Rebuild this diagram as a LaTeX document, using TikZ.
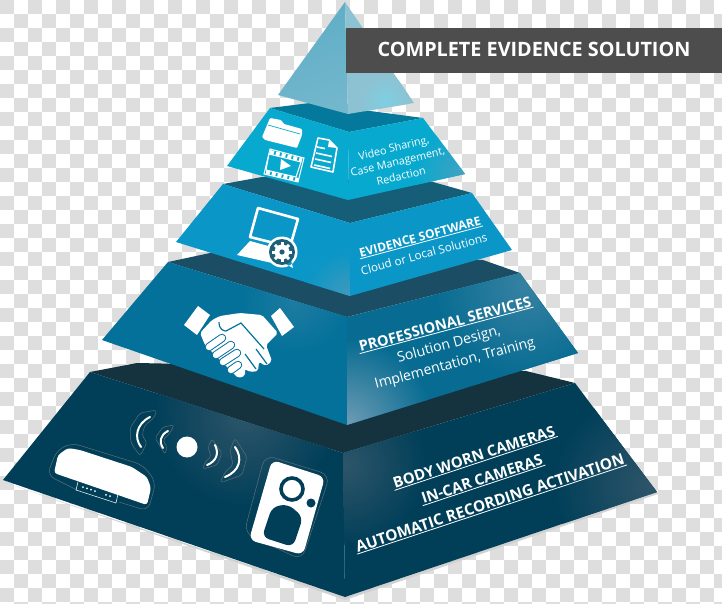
\documentclass[tikz,border=0pt]{standalone}
\usepackage{fontspec}
\setmainfont{Open Sans}
\usetikzlibrary{calc}
\definecolor{topone}{HTML}{15333F}
\definecolor{toptwo}{HTML}{1B4E64}
\definecolor{topthree}{HTML}{165D78}
\definecolor{topfour}{HTML}{05799B}
\definecolor{baseblue}{HTML}{013F59}
\definecolor{basesoft}{HTML}{2E5569}
\definecolor{teamblue}{HTML}{03719A}
\definecolor{teamside}{HTML}{086C92}
\definecolor{teamsoft}{HTML}{6F9CB5}
\definecolor{softblue}{HTML}{0A96C6}
\definecolor{videoblue}{HTML}{07A9CF}
\definecolor{gearblue}{HTML}{1E5F78}
\definecolor{halo}{HTML}{5D6E76}
\definecolor{titlegray}{HTML}{4D4D4D}
\definecolor{check}{HTML}{DEDEDE}
\definecolor{tipdark}{HTML}{5FADC7}
\definecolor{tiplight}{HTML}{7FCFE2}
\definecolor{tiplow}{HTML}{72B7CC}
\definecolor{tippale}{HTML}{8CC2D2}
\tikzset{
    % The see-through squares behind the picture
    check fill/.style={fill=check},
%
    % Thin shadow under the base
    shadow fill/.style={fill=black!18},
%
    % The writing on the right hand sides
    side text/.style={text=white, align=center, inner sep=1pt},
    heading text/.style={side text, font=\bfseries\fontsize{#1}{#1}\selectfont},
    light text/.style={side text, font=\fontsize{#1}{#1}\selectfont},
    under line/.style={draw=white, line width=.8pt},
%
    % White pictograms
    icon line/.style={draw=white, line width=#1},
    halo line/.style={draw=halo, line width=.5pt, rounded corners=#1},
    wave line/.style={draw=white, line width=2pt, line cap=round},
    finger/.style={draw=teamblue, line width=8.4pt, line cap=round,
        postaction={draw=white, line width=6.4pt, line cap=round}}}
% A soft lighter patch that fades out into the colour of a face
\newcommand\faceglow[5]{\shade[inner color=#4, outer color=#5] (#1,#2) circle (#3);}
\begin{document}
\begin{tikzpicture}[x=1pt, y=-1pt]
\useasboundingbox (0,0) rectangle (722,604);

% see-through squares
\fill[white] (0,0) rectangle (722,604);
\foreach \i in {0,...,51}
    \foreach \j in {0,...,43} {
        \pgfmathparse{int(mod(\i+\j,2))}
        \ifnum\pgfmathresult=0
            \path[check fill] (14*\i,14*\j) rectangle ++(14,14);
        \fi}

% bottom tier
\path[shadow fill] (3,482) -- (345,600) -- (658,494) -- (657,492) -- (345,597) -- cycle;
\fill[topone] (90,372) -- (137,363) -- (526,371) -- (575,383) -- (343,453) -- cycle;
\begin{scope}
\clip (90,372) -- (343,453) -- (345,597) -- (3,480) -- cycle;
\fill[baseblue] (0,360) rectangle (350,600);
\faceglow{245}{415}{90}{basesoft}{baseblue}
\end{scope}
\begin{scope}
\clip (343,453) -- (575,383) -- (657,492) -- (345,597) -- cycle;
\fill[baseblue] (340,380) rectangle (660,600);
\faceglow{345}{465}{80}{basesoft}{baseblue}
\faceglow{650}{485}{95}{basesoft}{baseblue}
\end{scope}

% handshake tier
\fill[toptwo] (168,262) -- (210,253) -- (483,260) -- (520,273) -- (347,317) -- cycle;
\begin{scope}
\clip (168,262) -- (347,317) -- (347,425) -- (102,340) -- cycle;
\fill[teamblue] (100,250) rectangle (350,430);
\faceglow{295}{300}{55}{teamblue!75!teamsoft}{teamblue}
\end{scope}
\begin{scope}
\clip (347,317) -- (520,273) -- (578,353) -- (347,425) -- cycle;
\fill[teamside] (345,270) rectangle (580,430);
\faceglow{347}{425}{85}{teamsoft}{teamside}
\faceglow{525}{285}{90}{teamside!55!teamsoft}{teamside}
\end{scope}

% laptop tier
\fill[topthree] (223,184) -- (262,177) -- (433,182) -- (472,193) -- (350,223) -- cycle;
\begin{scope}
\clip (223,184) -- (350,223) -- (350,296) -- (176,242) -- cycle;
\fill[softblue] (170,180) rectangle (352,300);
\faceglow{350}{296}{45}{softblue!45!teamsoft}{softblue}
\end{scope}
\fill[softblue] (350,223) -- (472,193) -- (512,250) -- (350,296) -- cycle;

% folder tier
\fill[topfour] (270,108) -- (310,103) -- (423,118) -- (349,132) -- cycle;
\fill[videoblue] (270,108) -- (349,132) -- (348,200) -- (227,166) -- cycle;
\begin{scope}
\clip (349,132) -- (423,118) -- (465,174) -- (348,200) -- cycle;
\fill[videoblue] (345,115) rectangle (470,205);
\faceglow{465}{176}{50}{videoblue!40!teamsoft}{videoblue}
\end{scope}

% tip
\shade[top color=tipdark, middle color=tiplight, bottom color=tiplow, shading angle=20]
    (345,2) -- (348,114) -- (278,95) -- cycle;
\shade[top color=tippale, middle color=tippale, bottom color=tippale, shading angle=-10]
    (345,2) -- (414,103) -- (348,114) -- cycle;
\begin{scope}
\clip (345,2) -- (414,103) -- (348,114) -- cycle;
\faceglow{385}{100}{24}{tiplight}{tippale}
\end{scope}

% title
\fill[titlegray] (346,28) rectangle (722,73);
\node (title) [text=white, font=\bfseries\fontsize{19.8}{20}\selectfont]
    at (534,49) {COMPLETE EVIDENCE SOLUTION};

% folder
\fill[white, rounded corners=1pt] (270,118) -- (281,120) -- (284,124) -- (302,129) -- (302,135)
    -- (297,148) -- (265,140) -- (262,137) -- cycle;
\draw[videoblue, line width=.7pt] (268,125) -- (300,134);

% document
\draw[icon line=1.6pt, line join=round] (318,138) -- (329,140) -- (337,148) -- (333,172) -- (311,167) -- cycle;
\fill[white] (329,140) -- (337,148) -- (328,147) -- cycle;
\foreach \y in {0,6,12}
    \draw[icon line=1.6pt] ($(316,153)+(-\y*.15,\y)$) -- ++(16,3.5);
\draw[icon line=1.6pt] (317,147) -- ++(8,1.6);

% film strip
\draw[icon line=4pt, dotted, line cap=butt] (270,152) -- (302,160);
\draw[icon line=4pt, dotted, line cap=butt] (266,172) -- (298,180);
\draw[icon line=1pt] (270,149) -- (304,158) -- (298,182) -- (264,174) -- cycle;
\draw[icon line=1pt] (269,154) -- (301,162) -- (296,177) -- (266,170) -- cycle;
\fill[white] (281,159) -- (291,166) -- (280,170) -- cycle;

% laptop
\draw[icon line=2.6pt, line join=round, fill=softblue] (258,208) -- (298,219) -- (290,247) -- (250,237) -- cycle;
\fill[white, line join=round] (250,241) -- (272,247) -- (272,263) -- (237,255) -- cycle;
\fill[white] (282,252) circle (15.5) (282,262) -- (293,268) -- (290,256) -- cycle;
\fill[gearblue] (282,252) circle (13);
\foreach \a in {0,45,...,315}
    \draw[icon line=3pt] (282,252) -- ++(\a:10);
\fill[white] (282,252) circle (7.5);
\fill[gearblue] (282,252) circle (2.6);

% handshake
\fill[white] (198,306) -- (210,315) -- (197,335) -- (184,325) -- cycle;
\fill[white] (280,308) -- (294,327) -- (282,336) -- (271,316) -- cycle;
\fill[white, rounded corners=2pt] (212,320) -- (220,316) -- (240,313) -- (262,315) -- (278,333) -- (266,345)
    -- (272,361) -- (266,366) -- (259,362) -- (258,371) -- (250,372) -- (245,369) -- (245,376) -- (238,378)
    -- (205,345) -- (200,333) -- cycle;
\draw[finger] (209,347) -- (222,338);
\draw[finger] (216,355) -- (231,345);
\draw[finger] (223,362) -- (237,353);
\draw[finger] (231,370) -- (238,365);
\draw[teamblue, line width=1.2pt] (219,322) .. controls (219,330) and (224,331) .. (226,331)
    -- (241,323) -- (264,349);
\draw[teamblue, line width=1.2pt] (245,354) -- (256,369);
\draw[teamblue, line width=1.2pt] (256,349) -- (267,364);

% router
\draw[halo line=8pt] (77,490) -- (47,475) -- (57,450) -- (72,443) -- (143,465) -- (156,482) -- (148,511) -- (119,502);
\fill[white, rounded corners=3pt] (54,473) -- (58,455) -- (68,448) -- (80,450) -- (132,467) -- (147,477)
    -- (151,488) -- (147,505) -- cycle;
\draw[icon line=.5pt] (78,482) -- (76,490) -- (116,503) -- (118,494);
\foreach \d in {83,87,91,95,106,110}
    \fill[white] (\d,{487+(\d-83)*.34}) circle (1);

% signal
\fill[white] (187,447) circle (10.5);
\draw[halo line=3pt] (157,410) -- (140,413) -- (130,428) -- (131,443) -- (140,456) -- (147,443) -- (142,435) -- (145,425) -- (154,418) -- cycle;
\draw[wave line] (150,417) .. controls (136,424) and (134,438) .. (141,447);
\draw[halo line=2pt] (174,425) -- (163,427) -- (155,438) -- (165,454) -- (167,447) -- (163,440) -- (170,433) -- cycle;
\draw[wave line] (168,431) .. controls (160,435) and (159,442) .. (163,448);
\draw[halo line=2pt] (212,439) -- (222,453) -- (217,465) -- (203,469) -- (205,462) -- (211,457) -- (208,447) -- cycle;
\draw[wave line] (215,445) .. controls (219,453) and (217,461) .. (207,465);
\draw[halo line=3pt] (235,438) -- (247,457) -- (242,475) -- (220,483) -- (225,472) -- (233,465) -- (230,450) -- cycle;
\draw[wave line] (235,447) .. controls (243,458) and (240,471) .. (225,477);

% camera
\draw[halo line=10pt] (265,455) -- (330,475) -- (302,560) -- (244,533) -- cycle;
\fill[white, rounded corners=7pt] (272,460) -- (325,477) -- (303,555) -- (249,540) -- cycle;
\draw[baseblue, line width=3.6pt] (292,489) circle (11);
\fill[baseblue] (311,503) circle (4.5);
\fill[baseblue, rounded corners=7pt] (272,507) -- (288,504) -- (303,517) -- (293,547) -- (262,537) -- cycle;

% tier texts
\node (video) [light text=10.8, rotate=13.5] at (394,149) {Video Sharing,};
\node (case) [light text=10.8, rotate=13.5] at (398,163) {Case Management,};
\node (redaction) [light text=10.8, rotate=13.5] at (401,176) {Redaction};

\node (software) [heading text=12, rotate=15] at (420,237) {EVIDENCE SOFTWARE};
\draw[under line] (software.south west) -- (software.south east);
\node (cloud) [light text=11.6, rotate=15] at (424,254) {Cloud or Local Solutions};

\node (services) [heading text=14.5, rotate=15] at (445,324) {PROFESSIONAL SERVICES};
\draw[under line] (services.south west) -- (services.south east);
\node (design) [light text=14.1, rotate=15] at (449,345) {Solution Design,};
\node (training) [light text=14.1, rotate=15] at (455,364) {Implementation, Training};

\node (worn) [heading text=15, rotate=18.3] at (474,457) {BODY WORN CAMERAS};
\draw[under line] (worn.south west) -- (worn.south east);
\node (incar) [heading text=15, rotate=18.3] at (482,479) {IN-CAR CAMERAS};
\draw[under line] (incar.south west) -- (incar.south east);
\node (activation) [heading text=15.4, rotate=18.3] at (490,503) {AUTOMATIC RECORDING ACTIVATION};
\draw[under line] (activation.south west) -- (activation.south east);

\end{tikzpicture}
\end{document}
